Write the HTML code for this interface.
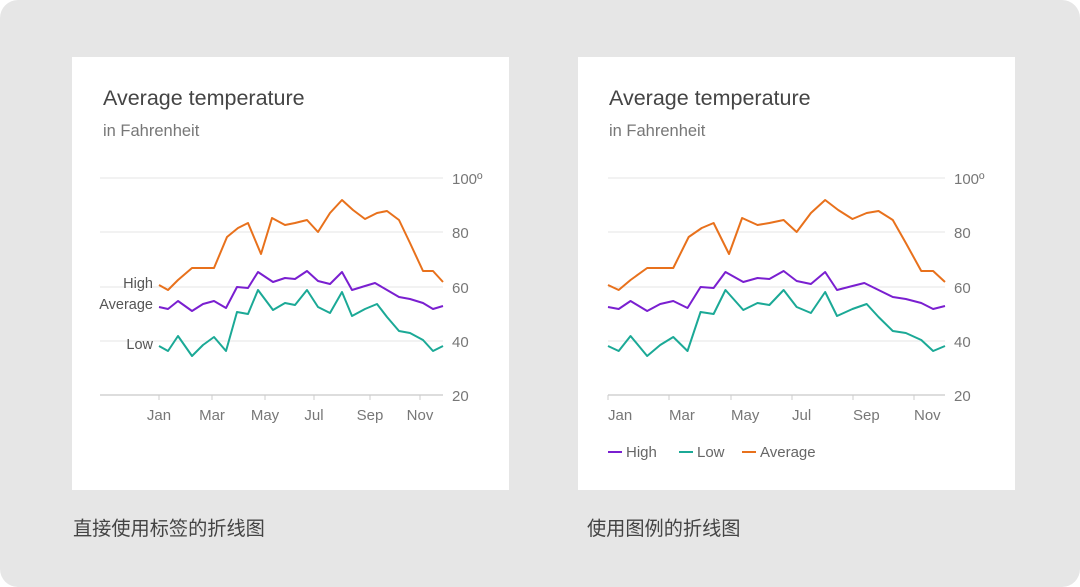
<!DOCTYPE html>
<html><head><meta charset="utf-8"><style>
body{margin:0;width:1080px;height:587px;background:#fff;font-family:"Liberation Sans","Noto Sans CJK SC",sans-serif;}
#bg{position:absolute;left:0;top:0;width:1080px;height:587px;background:#e6e6e6;border-radius:18px;}
</style></head><body><div id="bg"></div>
<svg id="s" width="1080" height="587" style="position:absolute;left:0;top:0" font-family="Liberation Sans, Noto Sans CJK SC, sans-serif"></svg>
<script>
const O=[[159,285],[168,290],[178,280],[192,268],[203,268],[214,268],[227,237],[238,228],[248,223],[261,254],[272,218],[285,225],[295,223],[307,220],[318,232],[330,213],[342,200],[353,210],[365,219],[377,213],[387,211],[399,220],[410,243],[423,271],[433,271],[443,282]];
const P=[[159,307],[168,309],[178,301],[192,311],[203,304],[214,301],[226,308],[237,287],[248,288],[258,272],[273,282],[285,278],[295,279],[307,271],[318,281],[330,284],[342,272],[352,290],[365,286],[375,283],[387,290],[399,297],[410,299],[423,303],[433,309],[443,306]];
const T=[[159,346],[168,351],[178,336],[192,356],[203,345],[214,337],[226,351],[237,312],[248,314],[258,290],[273,310],[285,303],[295,305],[307,290],[318,307],[330,313],[342,292],[352,316],[365,309],[377,304],[387,317],[399,331],[410,333],[423,340],[433,351],[443,346]];
let h='';
function chart(cx,x0,x1,fx,ticks,labAnchor,direct){
 h+=`<rect x="${cx}" y="57" width="437" height="433" fill="#fff"/>`;
 h+=`<text x="${cx+31}" y="105" font-size="21.5" fill="#444">Average temperature</text>`;
 h+=`<text x="${cx+31}" y="136" font-size="16.5" fill="#777">in Fahrenheit</text>`;
 [[178,'100º'],[232,'80'],[287,'60'],[341,'40']].forEach(([y,t])=>{h+=`<line x1="${x0}" x2="${x1}" y1="${y}" y2="${y}" stroke="#e6e6e6"/><text x="${x1+9}" y="${y+6}" font-size="15" fill="#777">${t}</text>`;});
 h+=`<line x1="${x0}" x2="${x1}" y1="395" y2="395" stroke="#bbb"/><text x="${x1+9}" y="401" font-size="15" fill="#777">20</text>`;
 const m=['Jan','Mar','May','Jul','Sep','Nov'];
 ticks.forEach((x,i)=>{h+=`<line x1="${x}" x2="${x}" y1="395" y2="400" stroke="#ccc"/><text x="${x}" y="420" text-anchor="${labAnchor}" font-size="15" fill="#777">${m[i]}</text>`;});
 [[O,'#e8711c'],[P,'#7a1fd0'],[T,'#1ba996']].forEach(([d,c])=>{h+=`<polyline fill="none" stroke="${c}" stroke-width="2" stroke-linejoin="round" points="${d.map(p=>fx(p[0])+','+p[1]).join(' ')}"/>`;});
 if(direct){
  h+=`<text x="153" y="288" text-anchor="end" font-size="14.5" fill="#555">High</text><text x="153" y="309" text-anchor="end" font-size="14.5" fill="#555">Average</text><text x="153" y="349" text-anchor="end" font-size="14.5" fill="#555">Low</text>`;
 }else{
  [[608,'#7a1fd0','High'],[679,'#1ba996','Low'],[742,'#e8711c','Average']].forEach(([x,c,t])=>{h+=`<line x1="${x}" x2="${x+14}" y1="452" y2="452" stroke="${c}" stroke-width="2"/><text x="${x+18}" y="457" font-size="15" fill="#666">${t}</text>`;});
 }
}
chart(72,100,443,x=>x,[159,212,265,314,370,420],'middle',true);
chart(578,608,945,x=>608+(x-159)*337/284,[608,669,731,792,853,914],'start',false);
h+=`<text x="73" y="535" font-size="19.2" fill="#444">直接使用标签的折线图</text><text x="587" y="535" font-size="19.2" fill="#444">使用图例的折线图</text>`;
document.getElementById('s').innerHTML=h;
</script></body></html>
